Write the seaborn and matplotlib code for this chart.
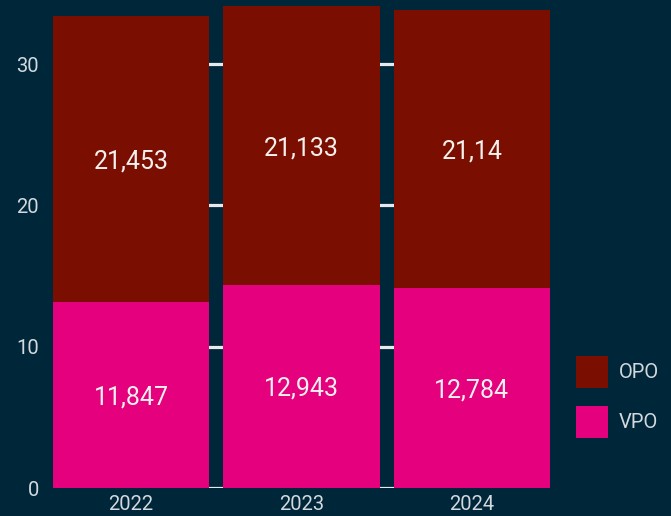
import matplotlib
matplotlib.use("Agg")
import matplotlib.pyplot as plt
import seaborn as sns
import pandas as pd
from matplotlib.patches import Patch

years = ["2022", "2023", "2024"]
# segment heights as drawn in the picture
vpo = [13.16, 14.37, 14.18]
opo = [20.24, 19.73, 19.62]
# labels printed on the segments
vpo_labels = ["11,847", "12,943", "12,784"]
opo_labels = ["21,453", "21,133", "21,14"]
yticks = [0, 10, 20, 30]

BG = "#00263a"
C_OPO = "#7a0e00"
C_VPO = "#e5007e"
TXT = "#d3d9dd"

sns.set_theme(style="dark")
plt.rcParams['font.family'] = ['Roboto', 'DejaVu Sans']

fig = plt.figure(figsize=(6.71, 5.16), dpi=100, facecolor=BG)
ax = fig.add_axes([53/671, 28/516, (550-53)/671, 488/516])
ax.set_facecolor(BG)

df = pd.DataFrame({"year": years, "VPO": vpo, "OPO": opo})
df["total"] = df["VPO"] + df["OPO"]

w = 0.915
sns.barplot(data=df, x="year", y="total", color=C_OPO, width=w, ax=ax,
            saturation=1, linewidth=0, zorder=2)
sns.barplot(data=df, x="year", y="VPO", color=C_VPO, width=w, ax=ax,
            saturation=1, linewidth=0, zorder=3)

for i in range(len(years)):
    a, b = vpo[i], opo[i]
    ax.text(i, a / 2, vpo_labels[i], ha="center", va="center_baseline", color="#f4f0ee",
            fontsize=18, zorder=5)
    ax.text(i, a + b / 2, opo_labels[i], ha="center", va="center_baseline", color="#f4f0ee",
            fontsize=18, zorder=5)

ax.set_xlim(-w/2, 2 + w/2)
ax.set_ylim(0, 34.54)
ax.set_yticks(yticks)
ax.yaxis.grid(True, color="#e6eaec", linewidth=2.3, zorder=0)
ax.xaxis.grid(False)
ax.set_axisbelow(True)
ax.set_xlabel("")
ax.set_ylabel("")
for s in ax.spines.values():
    s.set_visible(False)
ax.tick_params(axis="both", length=0, colors=TXT, labelsize=14.5)
ax.tick_params(axis="y", pad=10)
ax.tick_params(axis="x", pad=5)

handles = [Patch(facecolor=C_OPO, edgecolor="none", linewidth=0, label="OPO"),
           Patch(facecolor=C_VPO, edgecolor="none", linewidth=0, label="VPO")]
leg = fig.legend(handles=handles, loc="center left", bbox_to_anchor=(560/671, 1 - 397/516),
                 frameon=False, fontsize=14.5, handlelength=1.6, handleheight=2.13,
                 labelspacing=0.85, handletextpad=0.5, borderpad=0.3)
for t in leg.get_texts():
    t.set_color(TXT)

fig.savefig("out.png", dpi=100, facecolor=BG)
